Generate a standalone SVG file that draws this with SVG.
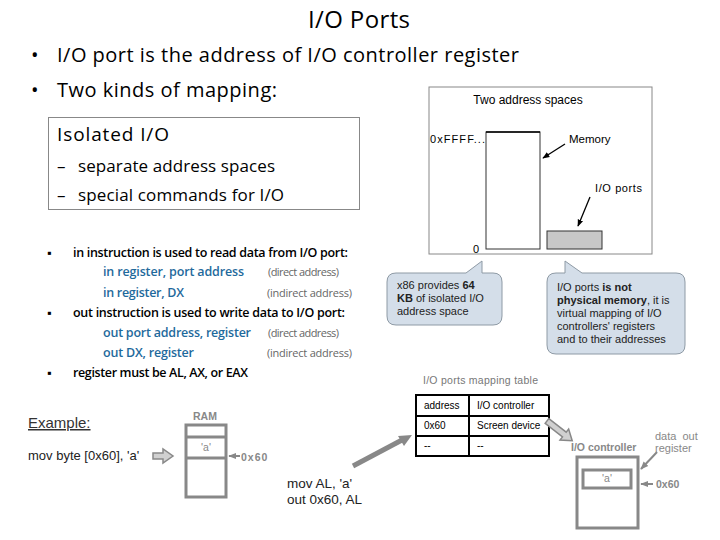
<svg xmlns="http://www.w3.org/2000/svg" width="720" height="540" viewBox="0 0 720 540">
<defs>
<style>
.cal{font-family:"Open Sans","Noto Sans",sans-serif;fill:#000}
.ar{font-family:"Liberation Sans",Arial,sans-serif}
.blue{font-family:"Open Sans","Noto Sans",sans-serif;font-weight:600;fill:#1f6a9c;font-size:12.5px}
.blk{font-family:"Open Sans","Noto Sans",sans-serif;font-weight:600;fill:#000;font-size:12.5px}
.cmt{font-family:"Open Sans","Noto Sans",sans-serif;fill:#666;font-size:11px}
.gbox{fill:#fff;stroke:#888;stroke-width:3}
.glab{font-family:"Liberation Sans",Arial,sans-serif;font-weight:bold;fill:#888;font-size:10.5px}
.callout{fill:#d4dee9;stroke:#8e9aa5;stroke-width:1}
.ct{font-family:"Liberation Sans",Arial,sans-serif;font-size:11px;fill:#222}
.tbl{font-family:"Liberation Sans",Arial,sans-serif;font-size:10px;fill:#000}
.hollow{fill:#d0d0d0;stroke:#888;stroke-width:1.5}
</style>
<marker id="ahB" viewBox="0 0 10 10" refX="9" refY="5" markerWidth="7" markerHeight="7" orient="auto" markerUnits="userSpaceOnUse"><path d="M0,1 L10,5 L0,9 z" fill="#000"/></marker>
<marker id="ahG" viewBox="0 0 10 10" refX="9" refY="5" markerWidth="8" markerHeight="8" orient="auto" markerUnits="userSpaceOnUse"><path d="M0,1 L10,5 L0,9 z" fill="#888"/></marker>
</defs>
<rect width="720" height="540" fill="#fff"/>

<g id="title">
<text class="cal" x="359" y="28" font-size="24" text-anchor="middle" textLength="102">I/O Ports</text>
</g>

<g id="top-bullets">
<text class="cal" x="31" y="62" font-size="20">•</text>
<text class="cal" x="57" y="62" font-size="20" textLength="462">I/O port is the address of I/O controller register</text>
<text class="cal" x="31" y="97" font-size="20">•</text>
<text class="cal" x="57" y="97" font-size="20" textLength="220">Two kinds of mapping:</text>
</g>

<g id="isolated-box">
<rect x="48.5" y="117.5" width="311" height="92" fill="#fff" stroke="#888" stroke-width="1"/>
<text class="cal" x="57" y="141" font-size="19" textLength="112">Isolated I/O</text>
<text class="cal" x="57" y="172" font-size="17">–</text>
<text class="cal" x="78" y="172" font-size="17" textLength="197">separate address spaces</text>
<text class="cal" x="57" y="201" font-size="17">–</text>
<text class="cal" x="78" y="201" font-size="17" textLength="206">special commands for I/O</text>
</g>

<g id="address-spaces-figure">
<rect x="429" y="87" width="223" height="167" fill="#fff" stroke="#888" stroke-width="1"/>
<text class="ar" x="528" y="104" font-size="12" text-anchor="middle">Two address spaces</text>
<rect x="486" y="132" width="54" height="117" fill="#fff" stroke="#333" stroke-width="1"/>
<line x1="486" y1="132" x2="540" y2="132" stroke="#000" stroke-width="1.5"/>
<text class="ar" x="430" y="143" font-size="11" textLength="55">0xFFFF...</text>
<text class="ar" x="473" y="253" font-size="11">0</text>
<text class="ar" x="569" y="143" font-size="11.5">Memory</text>
<text class="ar" x="595" y="192" font-size="11" textLength="47">I/O ports</text>
<rect x="547" y="231" width="55" height="18" fill="#c8c8c8" stroke="#333" stroke-width="1"/>
</g>

<g id="instruction-list">
<text class="blk" x="47" y="257" font-size="9">▪</text>
<text class="blk" x="73" y="257" textLength="275">in instruction is used to read data from I/O port:</text>
<text class="blue" x="103" y="276" textLength="141">in register,  port address</text>
<text class="cmt" x="268" y="276" textLength="71">(direct address)</text>
<text class="blue" x="103" y="297" textLength="81">in register, DX</text>
<text class="cmt" x="267" y="297" textLength="85">(indirect address)</text>
<text class="blk" x="47" y="317" font-size="9">▪</text>
<text class="blk" x="73" y="317" textLength="272">out instruction is used to write data to I/O port:</text>
<text class="blue" x="103" y="337" textLength="148">out port address, register</text>
<text class="cmt" x="268" y="337" textLength="71">(direct address)</text>
<text class="blue" x="103" y="357" textLength="91">out DX, register</text>
<text class="cmt" x="267" y="357" textLength="85">(indirect address)</text>
<text class="blk" x="47" y="377" font-size="9">▪</text>
<text class="blk" x="73" y="377" textLength="175">register must be AL, AX, or EAX</text>
</g>

<g id="callout-64kb">
<path class="callout" d="M396,273 L466,273 L482,261 L482,273 L493,273 Q502,273 502,282 L502,316 Q502,325 493,325 L396,325 Q387,325 387,316 L387,282 Q387,273 396,273 Z"/>
<text class="ct" x="397" y="289">x86 provides <tspan font-weight="bold">64</tspan></text>
<text class="ct" x="397" y="302"><tspan font-weight="bold">KB</tspan> of isolated I/O</text>
<text class="ct" x="397" y="315">address space</text>
</g>

<g id="callout-not-physical">
<path class="callout" d="M556,273 L565,273 L565,261 L582,273 L676,273 Q685,273 685,282 L685,345 Q685,354 676,354 L556,354 Q547,354 547,345 L547,282 Q547,273 556,273 Z"/>
<text class="ct" x="557" y="291">I/O ports <tspan font-weight="bold">is not</tspan></text>
<text class="ct" x="557" y="304"><tspan font-weight="bold">physical memory</tspan>, it is</text>
<text class="ct" x="557" y="317">virtual mapping of I/O</text>
<text class="ct" x="557" y="330">controllers' registers</text>
<text class="ct" x="557" y="343">and to their addresses</text>
</g>

<g id="mapping-table">
<text class="ar" x="423" y="384" font-size="10.5" fill="#777" textLength="115">I/O ports mapping table</text>
<rect x="416" y="395" width="133" height="61" fill="#fff" stroke="#000" stroke-width="2"/>
<line x1="469" y1="395" x2="469" y2="456" stroke="#000" stroke-width="2"/>
<line x1="416" y1="416" x2="549" y2="416" stroke="#000" stroke-width="2"/>
<line x1="416" y1="436" x2="549" y2="436" stroke="#000" stroke-width="2"/>
<text class="tbl" x="424" y="409">address</text>
<text class="tbl" x="477" y="409">I/O controller</text>
<text class="tbl" x="424" y="429">0x60</text>
<text class="tbl" x="477" y="429">Screen device</text>
<text class="tbl" x="424" y="449">--</text>
<text class="tbl" x="477" y="449">--</text>
</g>

<g id="example">
<text class="ar" x="28" y="428" font-size="15" fill="#333" text-decoration="underline">Example:</text>
<text class="ar" x="28" y="460" font-size="13" fill="#222">mov byte [0x60], 'a'</text>
</g>

<g id="ram">
<text class="glab" x="205" y="420" text-anchor="middle">RAM</text>
<rect class="gbox" x="186" y="425" width="40" height="72"/>
<line x1="186" y1="437" x2="226" y2="437" stroke="#888" stroke-width="3"/>
<line x1="186" y1="458" x2="226" y2="458" stroke="#888" stroke-width="3"/>
<text class="ar" x="206" y="451" font-size="10.5" fill="#888" text-anchor="middle">'a'</text>
<text class="glab" x="241" y="461" letter-spacing="1">0x60</text>
</g>

<g id="out-code">
<text class="ar" x="287" y="488" font-size="13.5" fill="#222">mov AL, 'a'</text>
<text class="ar" x="287" y="504" font-size="13.5" fill="#222">out 0x60, AL</text>
</g>

<g id="io-controller">
<text class="glab" x="571" y="451" font-size="11.5">I/O controller</text>
<rect class="gbox" x="577" y="457" width="61" height="71"/>
<rect x="583" y="470" width="48" height="18" fill="#fff" stroke="#888" stroke-width="3"/>
<text class="ar" x="607" y="482" font-size="10.5" fill="#888" text-anchor="middle">'a'</text>
<text class="ar" x="655" y="440" font-size="11" fill="#888" word-spacing="3">data out</text>
<text class="ar" x="655" y="452" font-size="11" fill="#888">register</text>
<text class="glab" x="656" y="488" font-size="11">0x60</text>
</g>

<g id="connectors">
<line x1="565" y1="144" x2="543" y2="158" stroke="#000" stroke-width="1.3" marker-end="url(#ahB)"/>
<line x1="590" y1="197" x2="578" y2="226" stroke="#000" stroke-width="1.3" marker-end="url(#ahB)"/>
<path class="hollow" d="M153,453 L163,453 L163,449 L173,456 L163,463 L163,459 L153,459 Z"/>
<line x1="240" y1="456" x2="229" y2="456" stroke="#888" stroke-width="2" marker-end="url(#ahG)"/>
<line x1="353" y1="466" x2="402" y2="440" stroke="#888" stroke-width="5"/>
<polygon points="412,435 398,436 404,446" fill="#888"/>
<path class="hollow" transform="translate(547,421) rotate(38)" d="M0,-3 L22,-3 L22,-7 L32,0 L22,7 L22,3 L0,3 Z"/>
<line x1="657" y1="452" x2="641" y2="469" stroke="#888" stroke-width="2" marker-end="url(#ahG)"/>
<line x1="653" y1="484" x2="641" y2="484" stroke="#888" stroke-width="2" marker-end="url(#ahG)"/>
</g>
</svg>
